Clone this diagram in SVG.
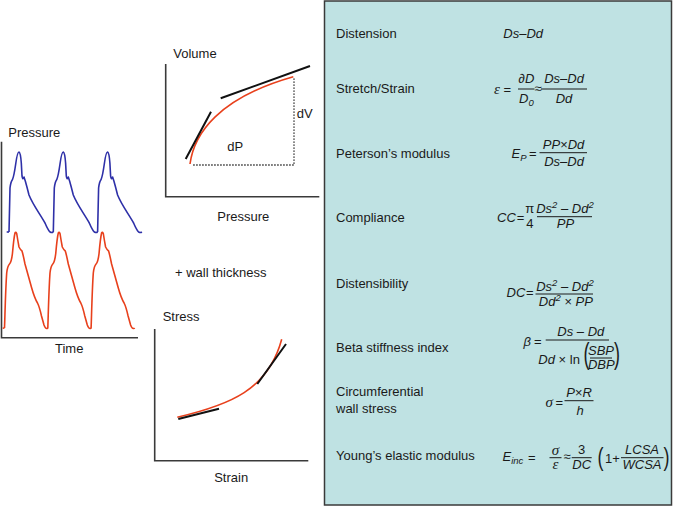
<svg xmlns="http://www.w3.org/2000/svg" xmlns:xlink="http://www.w3.org/1999/xlink" width="673" height="507" viewBox="0 0 673 507">
<style>
.lbl{font-family:"Liberation Sans",Arial,sans-serif;font-size:13px;fill:#1a1a1a}
.f{font-family:"Liberation Sans",Arial,sans-serif;font-size:13px;font-style:italic;fill:#1a1a1a}
.n{font-family:"Liberation Sans",Arial,sans-serif;font-size:13px;fill:#1a1a1a}
.g{font-family:"Liberation Serif","Times New Roman",serif;font-size:15px;font-style:italic;fill:#1a1a1a}
.p{font-family:"Liberation Sans",Arial,sans-serif;font-size:24px;fill:#1a1a1a}
.s{font-size:9.5px}
.bar{stroke:#1a1a1a;stroke-width:1}
.axis{stroke:#3a3a3a;stroke-width:1.6;fill:none}
.tan{stroke:#111;stroke-width:2;fill:none}
.red{stroke:#e8401c;stroke-width:1.6;fill:none;stroke-linejoin:round}
.blue{stroke:#2e30a8;stroke-width:1.6;fill:none;stroke-linejoin:round}
.dot{stroke:#111;stroke-width:1.3;stroke-dasharray:1.3 1.7;fill:none}
</style>
<defs>
<path id="bc" d="M9,232 L9.5,210 L10,188 Q10.8,181.5 12.5,179.5 Q14,176 15.7,164 Q17.3,152 19,152 Q20.5,152.5 21.3,163 L22,176 Q22.8,179.8 23.5,178 L24,177 Q24.6,179 25.3,181 Q27,187 29,195 C33,205 40,214 45,223 Q48,230 50,232 Q52,233 53.3,232"/>
<path id="rc" d="M4.5,328 C5,315 5.5,290 6.7,273 Q7.5,266 9.5,264 Q11.5,262 12.5,253 Q13.8,238 15,233 Q15.8,231.5 16.7,233.5 Q17.7,240 19,247 Q20.5,250 22,251 Q23,254 25,264 L31.7,288 Q34.5,298 37.5,303 Q39.5,307 41.5,316 L44,325 Q45.5,329 47,328.5 Q47.8,328.3 48,328"/>
</defs>
<rect width="673" height="507" fill="#ffffff"/>

<g id="pressure-time">
  <path class="axis" d="M1.5,141.7 V337.7 H138"/>
  <text class="lbl" x="8.3" y="137.3">Pressure</text>
  <text class="lbl" x="69.2" y="352.7" text-anchor="middle">Time</text>
  <g class="blue">
    <path d="M6.7,232 L9,232"/>
    <use xlink:href="#bc"/>
    <use xlink:href="#bc" transform="translate(44.3,0)"/>
    <use xlink:href="#bc" transform="translate(88.6,0)"/>
  </g>
  <g class="red">
    <path d="M2.7,328.3 L4.5,328"/>
    <use xlink:href="#rc"/>
    <use xlink:href="#rc" transform="translate(43.3,0)"/>
    <use xlink:href="#rc" transform="translate(86.6,0)"/>
  </g>
</g>

<g id="volume-pressure">
  <path class="axis" d="M165.7,64 V196.7 H319.3"/>
  <text class="lbl" x="173.3" y="58.3">Volume</text>
  <text class="lbl" x="243.3" y="221" text-anchor="middle">Pressure</text>
  <path class="dot" d="M193.3,165 H294 V77.3"/>
  <path class="red" d="M190,164 C194,134 218,98 293.3,76.7"/>
  <path class="tan" d="M185.7,159 L211,111.7 M220.7,98.3 L310,66"/>
  <text class="lbl" x="227.3" y="151">dP</text>
  <text class="lbl" x="296.7" y="118.3">dV</text>
</g>

<g id="wall-thickness">
  <text class="lbl" x="175" y="276.7">+ wall thickness</text>
</g>

<g id="stress-strain">
  <path class="axis" d="M154.7,329 V460.7 H308.3"/>
  <text class="lbl" x="162.7" y="320.7">Stress</text>
  <text class="lbl" x="231.2" y="481.7" text-anchor="middle">Strain</text>
  <path class="red" d="M177.3,417.3 C230,405 268,390 281.7,339.3"/>
  <path class="tan" d="M178.3,419 L219,408.7 M257.3,384 L286,344"/>
</g>

<g id="panel">
  <rect x="324.5" y="1" width="347" height="504" fill="#bfe2e3" stroke="#3a3a3a" stroke-width="1.5"/>
</g>

<g id="distension">
  <text class="lbl" x="336" y="37.5">Distension</text>
  <text class="f" x="503.3" y="37.5" font-size="14">Ds–Dd</text>
</g>

<g id="strain">
  <text class="lbl" x="336" y="93.3">Stretch/Strain</text>
  <text class="g" x="494" y="93.5">ε</text>
  <text class="n" x="503.5" y="93.5">=</text>
  <text class="f" x="526.5" y="83.3" text-anchor="middle">∂D</text>
  <line class="bar" x1="518" y1="89" x2="534.5" y2="89"/>
  <text class="f" x="519" y="102.7">D<tspan class="s" dy="3.5">0</tspan></text>
  <text class="n" x="534.6" y="92.5" font-size="10">≈</text>
  <text class="f" x="564" y="83.3" text-anchor="middle">Ds–Dd</text>
  <line class="bar" x1="541" y1="89" x2="587" y2="89"/>
  <text class="f" x="564" y="102.7" text-anchor="middle">Dd</text>
</g>

<g id="peterson">
  <text class="lbl" x="336" y="157.5">Peterson’s modulus</text>
  <text class="f" x="511.5" y="158">E<tspan class="s" dy="2.5">P</tspan></text>
  <text class="n" x="529" y="158">=</text>
  <text class="f" x="563.5" y="149" text-anchor="middle">PP×Dd</text>
  <line class="bar" x1="539.5" y1="152.7" x2="587" y2="152.7"/>
  <text class="f" x="564" y="165.5" text-anchor="middle">Ds–Dd</text>
</g>

<g id="compliance">
  <text class="lbl" x="336" y="221.7">Compliance</text>
  <text class="f" x="497" y="222">CC</text>
  <text class="n" x="516.8" y="222">=</text>
  <text class="n" x="529.8" y="213" text-anchor="middle" font-size="12">π</text>
  <text class="n" x="529.8" y="228.3" text-anchor="middle" font-size="12">4</text>
  <text class="f" x="565" y="213" text-anchor="middle">Ds<tspan class="s" dy="-5">2</tspan><tspan dy="5"> – Dd</tspan><tspan class="s" dy="-5">2</tspan></text>
  <line class="bar" x1="537" y1="216.7" x2="592" y2="216.7"/>
  <text class="f" x="565.5" y="228" text-anchor="middle">PP</text>
</g>

<g id="distensibility">
  <text class="lbl" x="336" y="287.7">Distensibility</text>
  <text class="f" x="506.5" y="297">DC</text>
  <text class="n" x="526" y="297">=</text>
  <text class="f" x="565" y="290.5" text-anchor="middle">Ds<tspan class="s" dy="-5">2</tspan><tspan dy="5"> – Dd</tspan><tspan class="s" dy="-5">2</tspan></text>
  <line class="bar" x1="535.5" y1="294" x2="593" y2="294"/>
  <text class="f" x="565.8" y="305.5" text-anchor="middle">Dd<tspan class="s" dy="-5">2</tspan><tspan dy="5"> × PP</tspan></text>
</g>

<g id="beta">
  <text class="lbl" x="336" y="351.7">Beta stiffness index</text>
  <text class="f" x="523.5" y="345.5" font-size="14">β</text>
  <text class="n" x="534" y="345.5">=</text>
  <text class="f" x="580.8" y="336" text-anchor="middle">Ds – Dd</text>
  <line class="bar" x1="545.7" y1="340" x2="609" y2="340"/>
  <text class="f" x="538.3" y="363.5">Dd<tspan font-style="normal"> × ln</tspan></text>
  <text class="p" transform="translate(583.5,363.5) scale(0.75,1.2)">(</text>
  <text class="f" x="601" y="355" text-anchor="middle" font-size="11">SBP</text>
  <line class="bar" x1="590" y1="358" x2="612" y2="358"/>
  <text class="f" x="601.3" y="368.5" text-anchor="middle" font-size="11">DBP</text>
  <text class="p" transform="translate(614,363.5) scale(0.75,1.2)">)</text>
</g>

<g id="wall-stress">
  <text class="lbl" x="336" y="396">Circumferential</text>
  <text class="lbl" x="336" y="412.7">wall stress</text>
  <text class="g" x="545.5" y="406.5">σ</text>
  <text class="n" x="555.5" y="406.5">=</text>
  <text class="f" x="579" y="396.7" text-anchor="middle">P×R</text>
  <line class="bar" x1="564.5" y1="400.7" x2="593.5" y2="400.7"/>
  <text class="f" x="580" y="415.3" text-anchor="middle">h</text>
</g>

<g id="young">
  <text class="lbl" x="336" y="460">Young’s elastic modulus</text>
  <text class="f" x="502.5" y="461" font-size="14">E<tspan class="s" dy="2.5">inc</tspan></text>
  <text class="n" x="528" y="462">=</text>
  <text class="g" x="555.5" y="454.5" text-anchor="middle">σ</text>
  <line class="bar" x1="549.5" y1="457.7" x2="561.5" y2="457.7"/>
  <text class="g" x="555.5" y="469" text-anchor="middle">ε</text>
  <text class="n" x="563.5" y="461" font-size="10">≈</text>
  <text class="n" x="581.5" y="454.3" text-anchor="middle">3</text>
  <line class="bar" x1="571.7" y1="457.7" x2="591.7" y2="457.7"/>
  <text class="f" x="581.7" y="469" text-anchor="middle">DC</text>
  <text class="p" transform="translate(597.5,466) scale(0.75,1.1)">(</text>
  <text class="n" x="605" y="462.5">1+</text>
  <text class="f" x="642" y="454.3" text-anchor="middle">LCSA</text>
  <line class="bar" x1="621" y1="457.7" x2="663.5" y2="457.7"/>
  <text class="f" x="642" y="469" text-anchor="middle">WCSA</text>
  <text class="p" transform="translate(663.5,466) scale(0.75,1.1)">)</text>
</g>
</svg>
